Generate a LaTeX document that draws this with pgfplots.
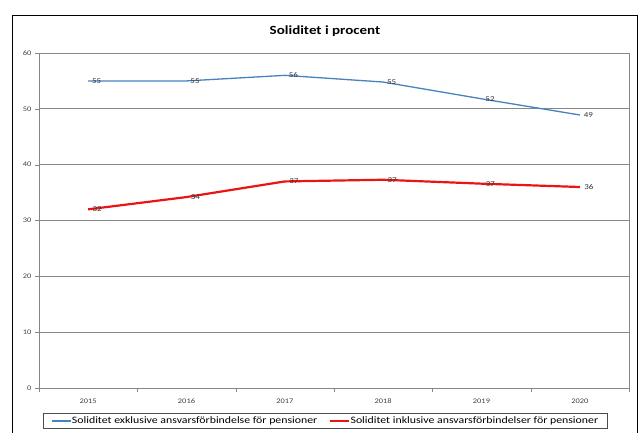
\documentclass[border=0pt]{standalone}
\usepackage{pgfplots}
\pgfplotsset{compat=1.18}
\usepackage{fontspec}
\setmainfont{Carlito}
\newfontfamily\widefont[FakeStretch=1.2]{Carlito}
\definecolor{serblue}{RGB}{70,130,190}
\definecolor{serred}{RGB}{235,20,20}
\definecolor{gridgray}{RGB}{135,135,135}
\begin{document}
\begin{tikzpicture}[x=1pt,y=1pt]
\path[use as bounding box] (0,0) rectangle (638,-432);
\draw[black,line width=1pt] (12,-440) -- (12,-15) -- (637,-15) -- (637,-440);
\node[font=\widefont\bfseries\fontsize{12.5}{14}\selectfont] at (325,-31) {Soliditet i procent};
\begin{axis}[
  at={(39pt,-388pt)}, anchor=south west,
  width=590pt, height=335pt, scale only axis,
  xmin=-0.5, xmax=5.5, ymin=0, ymax=60,
  ytick={0,10,...,60},
  xtick={0,...,5},
  xticklabels={2015,2016,2017,2018,2019,2020},
  minor xtick={-0.5,0.5,...,5.5},
  xtick style={draw=none},
  minor tick length=4pt,
  minor x tick style={draw=gridgray},
  ytick style={draw=gridgray},
  major tick length=4pt,
  tick align=outside,
  ymajorgrids, major grid style={gridgray, line width=0.8pt},
  axis line style={gridgray},
  axis x line*=bottom, axis y line*=left,
  tick label style={font=\widefont\fontsize{7}{8}\selectfont, text=black!75},
  /pgf/number format/assume math mode=true,
  xticklabel style={yshift=-3pt},
  every node near coord/.style={font=\widefont\fontsize{7.5}{8}\selectfont, text=black!80, anchor=west, xshift=0pt},
  nodes near coords={\pgfmathprintnumber[fixed,precision=0]{\pgfplotspointmeta}},
  legend image code/.code={\draw[#1] (0pt,0pt) -- (19pt,0pt);},
  legend style={at={(4pt,-25pt)}, anchor=north west, draw=black!70, font=\widefont\fontsize{9.85}{10}\selectfont, legend columns=2, /tikz/every even column/.append style={column sep=11pt}, inner ysep=1.5pt, inner xsep=8pt, nodes={inner xsep=0.5pt}},
  clip=false,
]
\draw[gridgray] (axis cs:5.5,0) -- (axis cs:5.5,60);
\draw[gridgray] (axis cs:-0.5,60) -- (axis cs:5.5,60);
\addplot[serblue, line width=1.3pt, mark=none] coordinates {(0,55.0) (1,55.0) (2,56.0) (3,54.8) (4,51.8) (5,48.9)};
\addlegendentry{Soliditet exklusive ansvarsförbindelse för pensioner}
\addplot[serred, line width=2.2pt, mark=none] coordinates {(0,32.0) (1,34.2) (2,37.0) (3,37.3) (4,36.6) (5,36.0)};
\addlegendentry{Soliditet inklusive ansvarsförbindelser för pensioner}
\end{axis}
\end{tikzpicture}
\end{document}
